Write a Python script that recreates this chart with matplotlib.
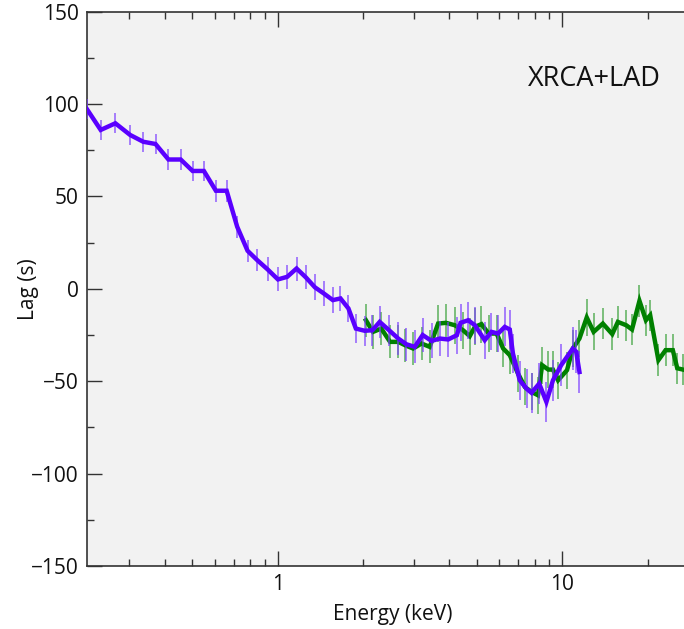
import numpy as np
import matplotlib
matplotlib.use("Agg")
import matplotlib.pyplot as plt
from matplotlib.ticker import LogLocator, MultipleLocator, FixedLocator, FixedFormatter

plt.rcParams['font.family'] = ['Open Sans', 'DejaVu Sans']

# XRCA lag-energy spectrum (purple)
xrca_energy = [0.213, 0.238, 0.268, 0.302, 0.336, 0.371, 0.412, 0.455, 0.501, 0.549,
               0.605, 0.660, 0.719, 0.782, 0.846, 0.920, 1.00, 1.078, 1.163, 1.254,
               1.35, 1.45, 1.56, 1.66, 1.77, 1.88, 2.02, 2.15, 2.28, 2.46,
               2.65, 2.83, 3.03, 3.23, 3.47, 3.71, 3.97, 4.26, 4.39, 4.67,
               4.93, 5.34, 5.64, 5.95, 6.28, 6.54, 6.71, 7.09, 7.49, 7.80,
               8.30, 8.80, 9.28, 9.92, 10.9, 11.2, 11.5]
xrca_lag = [97.2, 86.0, 89.6, 83.3, 79.6, 78.4, 70.0, 70.0, 63.8, 63.8,
            53.1, 53.1, 33.6, 20.6, 15.5, 10.5, 5.1, 6.5, 11.0, 6.2,
            0.8, -2.5, -6.1, -5.2, -10.6, -21.5, -22.7, -22.4, -17.9, -22.4,
            -26.9, -30.0, -31.4, -25.0, -28.2, -26.9, -27.4, -25.1, -18.4, -17.0,
            -19.7, -27.8, -23.3, -24.2, -20.6, -22.0, -35.0, -49.5, -54.0, -56.3,
            -51.3, -61.2, -49.5, -41.3, -32.3, -34.0, -45.0]
xrca_err = [5.5, 5.5, 5.5, 5.5, 5.5, 5.5, 5.5, 5.5, 5.5, 5.5,
            6.0, 6.0, 6.0, 6.0, 6.0, 6.5, 6.5, 6.5, 6.5, 6.5,
            7.0, 7.0, 7.0, 7.0, 7.5, 8.0, 8.0, 8.5, 8.5, 8.5,
            9.0, 9.0, 9.0, 9.0, 9.5, 9.5, 9.5, 10.0, 10.0, 10.0,
            10.0, 10.0, 10.0, 10.0, 10.5, 10.5, 10.5, 10.5, 10.5, 11.0,
            11.0, 11.0, 11.0, 11.5, 11.5, 11.5, 11.5]

# LAD lag-energy spectrum (green)
lad_energy = [2.04, 2.16, 2.31, 2.48, 2.65, 2.80, 2.99, 3.20, 3.42, 3.66,
              3.90, 4.19, 4.48, 4.73, 4.93, 5.20, 5.51, 5.88, 6.20, 6.54,
              6.99, 7.39, 7.80, 8.22, 8.50, 8.93, 9.28, 9.67, 10.4, 10.9,
              11.5, 12.2, 12.9, 13.9, 15.0, 15.7, 16.8, 17.6, 18.7, 19.7,
              20.4, 21.8, 23.1, 24.5, 25.4, 26.6]
lad_lag = [-17.0, -23.3, -21.5, -28.7, -28.7, -30.5, -32.3, -29.6, -31.4, -18.8,
           -18.4, -19.7, -22.4, -25.6, -20.6, -19.1, -24.2, -24.2, -32.3, -35.9,
           -45.8, -53.1, -55.8, -57.6, -41.3, -43.7, -43.7, -49.5, -44.0, -32.3,
           -26.9, -15.5, -23.3, -18.8, -24.5, -17.9, -19.7, -22.0, -6.5, -17.0,
           -14.3, -38.6, -33.2, -33.2, -43.0, -43.7]
lad_err = [9.0, 9.0, 9.0, 9.0, 9.0, 9.0, 9.0, 9.0, 9.0, 10.0,
           10.0, 10.0, 10.0, 10.0, 10.0, 10.0, 10.0, 10.0, 10.0, 10.0,
           10.0, 10.0, 10.0, 10.0, 10.0, 10.0, 10.0, 10.0, 10.0, 10.0,
           10.0, 10.0, 10.0, 8.5, 8.5, 8.5, 8.5, 8.5, 8.5, 8.5,
           8.5, 8.5, 8.5, 8.5, 8.5, 8.5]

y_ticks = [-150, -100, -50, 0, 50, 100, 150]
x_ticks = [1, 10]
x_tick_labels = ['1', '10']

purple = '#5a00ff'
green = '#008000'

fig = plt.figure(figsize=(6.84, 6.29), dpi=100)
ax = fig.add_axes([0.1272, 0.1002, 0.893, 0.8812])
ax.set_facecolor('#f2f2f2')

ax.errorbar(lad_energy, lad_lag, yerr=lad_err, fmt='none', ecolor='#3aa13a',
            elinewidth=1.2, alpha=0.75, zorder=2)
ax.plot(lad_energy, lad_lag, color=green, lw=3.2, zorder=3,
        solid_joinstyle='miter')
ax.errorbar(xrca_energy, xrca_lag, yerr=xrca_err, fmt='none', ecolor='#7b3cff',
            elinewidth=1.2, alpha=0.75, zorder=4)
ax.plot(xrca_energy, xrca_lag, color=purple, lw=3.2, zorder=5,
        solid_joinstyle='miter')

ax.set_xscale('log')
ax.set_xlim(0.213, 30)
ax.set_ylim(-150, 150)

ax.xaxis.set_major_locator(FixedLocator(x_ticks))
ax.xaxis.set_major_formatter(FixedFormatter(x_tick_labels))
ax.xaxis.set_minor_locator(LogLocator(base=10, subs=np.arange(2, 10)))
ax.xaxis.set_minor_formatter(plt.NullFormatter())
ax.yaxis.set_major_locator(FixedLocator(y_ticks))
ax.yaxis.set_minor_locator(MultipleLocator(25))

ax.tick_params(which='both', direction='in', top=True, right=False,
               color='#333333', labelsize=15, labelcolor='#111111')
ax.tick_params(which='major', length=11, width=1.0, pad=6)
ax.tick_params(which='minor', length=5, width=1.0)

for side in ['left', 'bottom', 'top']:
    ax.spines[side].set_color('#333333')
    ax.spines[side].set_linewidth(1.2)
ax.spines['right'].set_visible(False)

ax.set_xlabel('Energy (keV)', fontsize=15, color='#111111', labelpad=6)
ax.set_ylabel('Lag (s)', fontsize=15, color='#111111')
ax.yaxis.set_label_coords(-0.079, 0.5)

# label in the upper right corner (pixel coords from the bottom-left)
ax.text(594, 629 - 79, 'XRCA+LAD', transform=None, fontsize=19.5,
        ha='center', va='center', color='#111111')

fig.savefig('out.png', dpi=100)
